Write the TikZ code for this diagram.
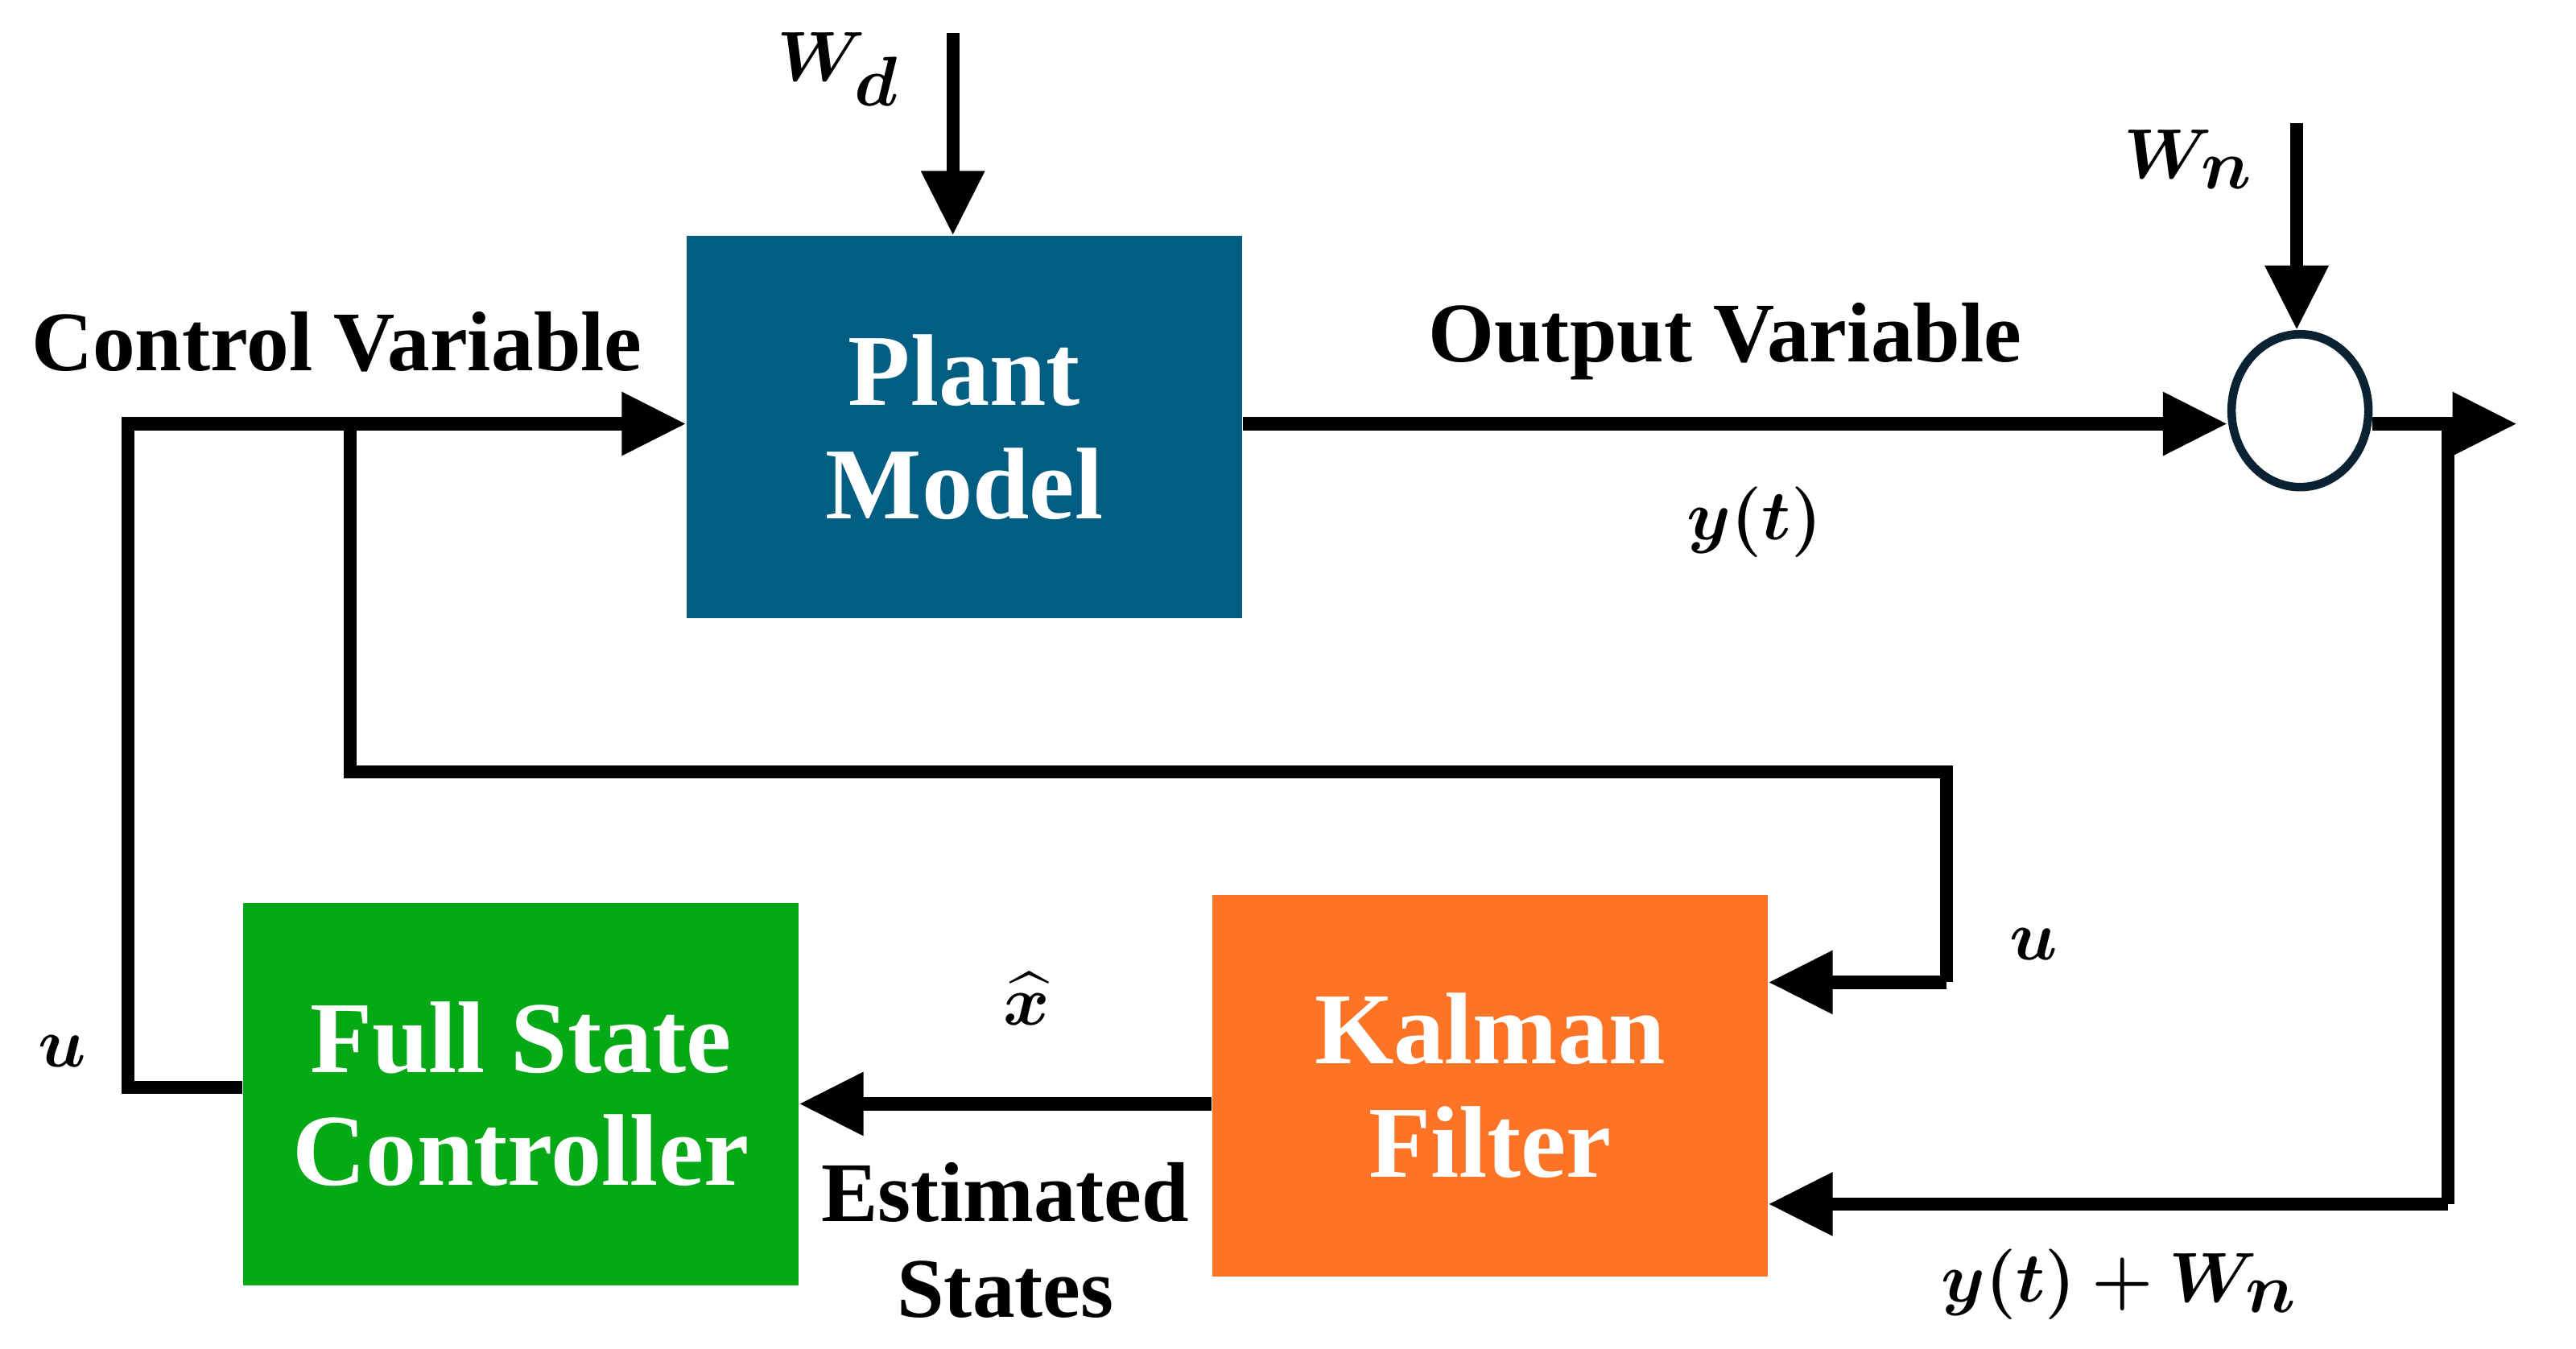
\documentclass[tikz,border=0pt]{standalone}
\usepackage{amsmath,bm}
\usepackage{fontspec}
\setmainfont{Liberation Serif}
\usetikzlibrary{arrows.meta,shapes.geometric}
\definecolor{plantc}{HTML}{025D83}
\definecolor{ctrlc}{HTML}{05A815}
\definecolor{kalc}{HTML}{FE7426}
\definecolor{navy}{HTML}{0B2233}
\begin{document}
\begin{tikzpicture}[x=0.2041mm,y=-0.2041mm,
  wire/.style={line width=4.6pt,line join=miter},
  arr/.style={wire,-{Triangle[length=8mm,width=7.5mm]}},
  blk/.style={draw=none,minimum width=69mm,minimum height=47.5mm,text=white,align=center,font=\fontsize{36}{40}\selectfont\bfseries},
  lbl/.style={font=\fontsize{30}{34}\selectfont\bfseries,align=center},
  mlbl/.style={font=\fontsize{40}{44}\selectfont}]
\useasboundingbox (0,0) rectangle (1568,821);
\node[blk,fill=plantc] (plant) at (587,260) {Plant\\Model};
\node[blk,fill=ctrlc] (ctrl) at (317,666) {Full State\\Controller};
\node[blk,fill=kalc] (kal) at (907,661) {Kalman\\Filter};
\node[draw=navy,line width=3pt,ellipse,minimum width=17mm,minimum height=19mm,inner sep=0] (sum) at (1400,250) {};
\coordinate (wd) at (580,20);
\coordinate (wn) at (1398,75);
\coordinate (out) at (1532,258);
\coordinate (c1) at (78,662);
\coordinate (c2) at (78,258);
\coordinate (b1) at (213,258);
\coordinate (b2) at (213,470);
\coordinate (b3) at (1185,470);
\coordinate (b4) at (1185,598);
\coordinate (f1) at (1490,258);
\coordinate (f2) at (1490,733);
\draw[arr] (ctrl.west |- c1) -- (c1) -- (c2) -- (plant.west |- c2);
\draw[wire] (b1) -- (b2) -- (b3) -- (b4);
\draw[arr] (b4) -- (kal.east |- b4);
\draw[arr] (plant.east |- c2) -- (sum.west |- c2);
\draw[arr] (sum.east |- out) -- (out);
\draw[wire] (f1) -- (f2);
\draw[arr] (f2) -- (kal.east |- f2);
\draw[arr] (kal.west |- 0,672) -- (ctrl.east |- 0,672);
\draw[arr] (wd) -- (plant.north -| wd);
\draw[arr] (wn) -- (sum.north -| wn);
\node[mlbl] (lwd) at (510,42) {$\bm{W_d}$};
\node[mlbl] (lwn) at (1332,97) {$\bm{W_n}$};
\node[lbl] (lcv) at (205,208) {Control Variable};
\node[lbl] (lov) at (1050,208) {Output Variable};
\node[mlbl] (lyt) at (1068,318) {$\bm{y(t)}$};
\node[mlbl] (lu1) at (1238,575) {$\bm{u}$};
\node[mlbl] (lu2) at (38,640) {$\bm{u}$};
\node[mlbl] (lxh) at (625,608) {$\bm{\widehat{x}}$};
\node[lbl] (les) at (612,755) {Estimated\\States};
\node[mlbl] (lyw) at (1290,782) {$\bm{y(t)+W_n}$};
\end{tikzpicture}
\end{document}
